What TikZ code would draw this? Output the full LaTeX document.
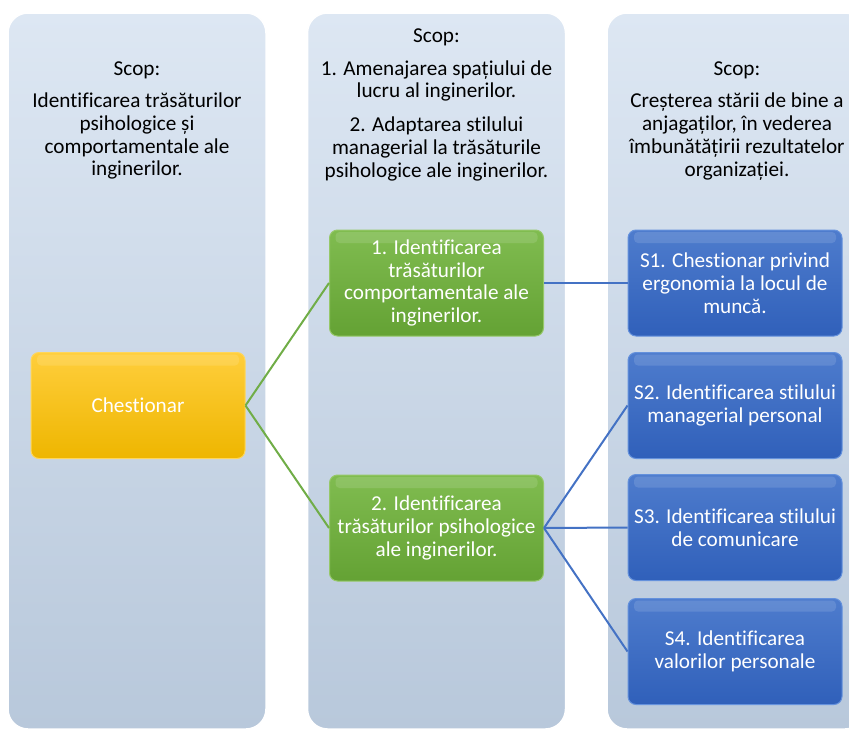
\documentclass[tikz,border=0pt]{standalone}
\usepackage{fontspec}
\setmainfont[Ligatures={NoCommon,NoContextual}]{Carlito}
\definecolor{pTop}{RGB}{221,231,243}
\definecolor{pBot}{RGB}{184,200,219}
\definecolor{goldTop}{RGB}{255,206,60}
\definecolor{goldBot}{RGB}{238,182,0}
\definecolor{goldEdge}{RGB}{255,214,90}
\definecolor{grTop}{RGB}{128,188,80}
\definecolor{grBot}{RGB}{100,162,52}
\definecolor{grEdge}{RGB}{150,200,105}
\definecolor{blTop}{RGB}{78,124,205}
\definecolor{blBot}{RGB}{48,96,186}
\definecolor{blEdge}{RGB}{100,145,220}
\definecolor{gLine}{RGB}{112,173,71}
\definecolor{bLine}{RGB}{68,114,196}
\newcommand\diagfont{\fontsize{21.2}{22.8}\selectfont}
\begin{document}
\begin{tikzpicture}[x=1pt,y=-1pt,
  panel/.style={rounded corners=20pt, top color=pTop, bottom color=pBot, draw=white, line width=1.5pt, minimum width=258pt, minimum height=716pt, inner sep=0pt},
  gloss/.style={path picture={\fill[white,opacity=.12,rounded corners=4pt]
      ([xshift=6pt,yshift=-2pt]path picture bounding box.north west) rectangle
      ([xshift=-6pt,yshift=-13pt]path picture bounding box.north east);}},
  box/.style={rounded corners=8pt, minimum width=214pt, minimum height=106pt, align=center, text=white, font=\diagfont, inner sep=1pt, line width=1pt, gloss},
  goldbox/.style={box, top color=goldTop, bottom color=goldBot, draw=goldEdge},
  greenbox/.style={box, top color=grTop, bottom color=grBot, draw=grEdge},
  bluebox/.style={box, top color=blTop, bottom color=blBot, draw=blEdge},
  lab/.style={align=center, font=\diagfont, text=black, inner sep=0pt},
  gcon/.style={draw=gLine, line width=2pt},
  bcon/.style={draw=bLine, line width=2pt}
]
\useasboundingbox (0,0) rectangle (849,731);
\clip (0,0) rectangle (849,731);
% panels
\node[panel] (p1) at (137,371) {};
\node[panel] (p2) at (436.5,371) {};
\node[panel] (p3) at (736,371) {};
% panel texts
\node[lab] (t1) at (137,120.5) {Scop:\\[9.5pt]Identificarea trăsăturilor\\psihologice și\\comportamentale ale\\inginerilor.};
\node[lab] (t2) at (436.5,105) {Scop:\\[9.5pt]1. Amenajarea spațiului de\\lucru al inginerilor.\\[11pt]2. Adaptarea stilului\\managerial la trăsăturile\\psihologice ale inginerilor.};
\node[lab] (t3) at (737,121) {Scop:\\[9.5pt]Creșterea stării de bine a\\anjagaților, în vederea\\îmbunătățirii rezultatelor\\organizației.};
% boxes
\node[goldbox] (ch) at (138,405.5) {Chestionar};
\node[greenbox] (g1) at (436.5,283) {1. Identificarea\\trăsăturilor\\comportamentale ale\\inginerilor.};
\node[greenbox] (g2) at (436.5,528) {2. Identificarea\\trăsăturilor psihologice\\ale inginerilor.};
\node[bluebox] (s1) at (735,283) {S1. Chestionar privind\\ergonomia la locul de\\muncă.};
\node[bluebox] (s2) at (735,405.5) {S2. Identificarea stilului\\managerial personal};
\node[bluebox] (s3) at (735,527.5) {S3. Identificarea stilului\\de comunicare};
\node[bluebox] (s4) at (735,651.5) {S4. Identificarea\\valorilor personale};
% connectors
\draw[gcon] (ch.east) -- (g1.west);
\draw[gcon] (ch.east) -- (g2.west);
\draw[bcon] (g1.east) -- (s1.west);
\draw[bcon] (g2.east) -- (s2.west);
\draw[bcon] (g2.east) -- (s3.west);
\draw[bcon] (g2.east) -- (s4.west);
\end{tikzpicture}
\end{document}
